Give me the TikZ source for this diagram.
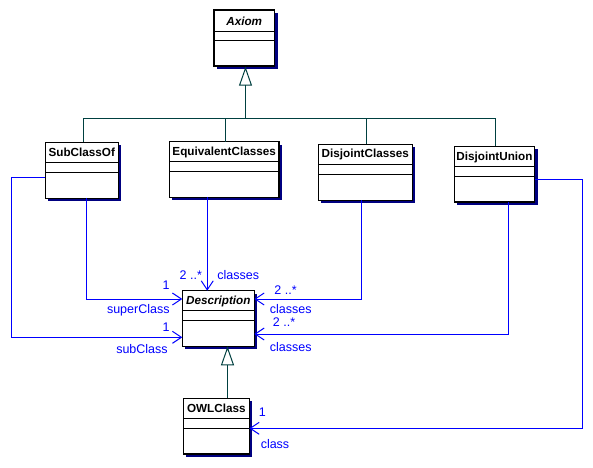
\documentclass[tikz,border=0pt]{standalone}
\usepackage{fontspec}
\newfontfamily\arialf{Liberation Sans}
\usetikzlibrary{arrows.meta}
\definecolor{assocblue}{RGB}{0,0,255}
\definecolor{gencol}{RGB}{0,64,64}
\definecolor{shadowc}{RGB}{0,0,128}
\tikzset{
  clsbox/.style={draw=black, line width=1.3pt, fill=white, inner sep=0pt, outer sep=0pt},
  sepline/.style={draw=black, line width=1pt},
  clsname/.style={font=\arialf\bfseries\fontsize{11.7}{13}\selectfont, inner sep=0pt},
  gen/.style={draw=gencol, line width=1pt},
  genarrow/.style={gen, -{Triangle[open, length=19pt, width=13pt, line width=1pt]}},
  assoc/.style={draw=assocblue, line width=1pt, -{Straight Barb[length=9pt, width=12pt, line width=1pt]}},
  alabel/.style={text=assocblue, font=\arialf\fontsize{12.5}{14}\selectfont, inner sep=0pt}
}
\newcommand{\umlclass}[8]{%
  \fill[shadowc] (#2+3,#3+3) rectangle (#4+3,#5+3);
  \node[clsbox, anchor=north west, minimum width=#4pt-#2pt, minimum height=#5pt-#3pt] (#1) at (#2,#3) {};
  \draw[sepline] (#2,#6) -- (#4,#6);
  \draw[sepline] (#2,#7) -- (#4,#7);
  \node[clsname] (#1-name) at ({(#2+#4)/2},{(#3+#6)/2+0.5}) {#8};
}
\begin{document}
\begin{tikzpicture}[x=1pt, y=-1pt]
\useasboundingbox (0,0) rectangle (593,467);
\fill[white] (0,0) rectangle (593,467);

\umlclass{axiom}{214}{10}{274.5}{66}{31}{40}{\itshape Axiom}
\umlclass{sub}{45.3}{142.3}{118.3}{198.3}{162.3}{172.3}{SubClassOf}
\umlclass{eq}{169.3}{141.7}{279}{197.3}{161.7}{171.7}{EquivalentClasses}
\umlclass{dc}{318.3}{144.3}{412.3}{200.3}{164.5}{174.3}{DisjointClasses}
\umlclass{du}{454.3}{146.3}{534.7}{202}{166.7}{176.7}{DisjointUnion}
\umlclass{desc}{182.3}{290.7}{254.3}{346.3}{310.7}{320.7}{\itshape Description}
\umlclass{owl}{183.3}{398.3}{249.3}{454}{418.3}{428.3}{OWLClass}

% generalization to Axiom
\coordinate (bus) at (245.5,118.3);
\coordinate (axtip) at (245.5,66.7);
\draw[genarrow] (bus) -- (axtip);
\draw[gen] ([xshift=1.5]sub.north) |- ([xshift=0.8]du.north |- bus) -- ([xshift=0.8]du.north);
\draw[gen] ([xshift=1.1]eq.north) -- ([xshift=1.1]eq.north |- bus);
\draw[gen] ([xshift=1.4]dc.north) -- ([xshift=1.4]dc.north |- bus);

% generalization OWLClass -> Description
\draw[genarrow] ([xshift=11.2]owl.north) -- ([xshift=9.2]desc.south);

% associations
\coordinate (sup) at (86.7,299);
\coordinate (subl) at (11.5,337.3);
\coordinate (subt) at (45.3,177.7);
\coordinate (dcy) at (361.3,299);
\coordinate (duy) at (508.7,334);
\coordinate (dur) at (582.5,179.3);
\coordinate (owly) at (582.5,428.3);

\draw[assoc] ([xshift=4.9]sub.south) |- (desc.west |- sup);
\draw[assoc] (sub.west |- subt) -| (subl) -- (desc.west |- subl);
\draw[assoc] ([xshift=-16.9]eq.south) -- ([xshift=-16.9]eq.south |- desc.north);
\draw[assoc] ([xshift=-4]dc.south) |- (desc.east |- dcy);
\draw[assoc] ([xshift=14.2]du.south) |- (desc.east |- duy);
\draw[assoc] (du.east |- dur) -- (dur) -- (owly) -- (owl.east |- owly);

% labels
\node[alabel] (l1) at (166,285) {1};
\node[alabel] (l2) at (138.3,310.7) {superClass};
\node[alabel] (l3) at (166,326.7) {1};
\node[alabel] (l4) at (142,349.3) {subClass};
\node[alabel] (l5) at (190.8,275) {2 ..*};
\node[alabel] (l6) at (238.3,275) {classes};
\node[alabel] (l7) at (285.5,290) {2 ..*};
\node[alabel] (l8) at (290.8,309.3) {classes};
\node[alabel] (l9) at (284,322.3) {2 ..*};
\node[alabel] (l10) at (290.8,347.3) {classes};
\node[alabel] (l11) at (262.3,411.7) {1};
\node[alabel] (l12) at (275,444.3) {class};
\end{tikzpicture}
\end{document}
